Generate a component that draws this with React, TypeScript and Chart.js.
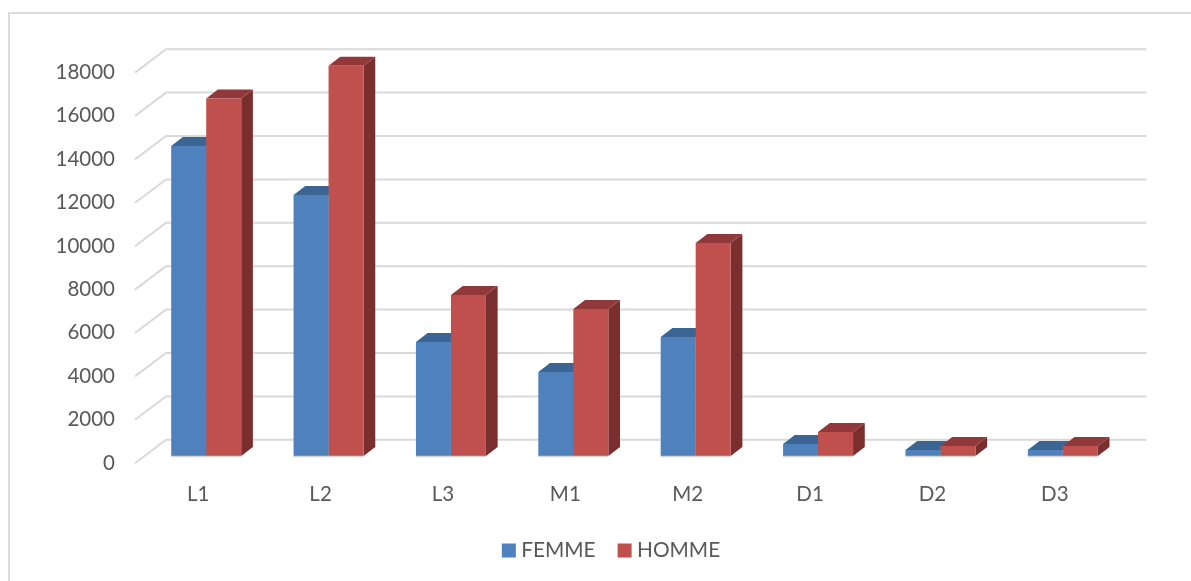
import React, { useEffect, useRef } from "react";
import { Chart, registerables } from "chart.js";

Chart.register(...registerables);

const categories = ["L1", "L2", "L3", "M1", "M2", "D1", "D2", "D3"];
const femme = [14290, 12030, 5250, 3870, 5480, 550, 280, 280];
const homme = [16480, 17980, 7420, 6770, 9820, 1110, 460, 460];

const FONT = "Lato, 'Open Sans', sans-serif";
const TEXT = "#595959";
const GRID = "#d9d9d9";
const DEPTH_X = 11.7;
const DEPTH_Y = 9;
const topColors = ["#3c6594", "#91393a"];
const sideColors = ["#2f4f75", "#7a2f2e"];

const scene = {
  id: "scene",
  afterLayout(chart: any) {
    // the legend in the picture is centred further right than the plot's box
    chart.legend.left = 103;
  },
  beforeDatasetsDraw(chart: any) {
    const { ctx, scales } = chart;
    const y = scales.y;
    ctx.save();
    // outer frame (only top and left edges show in the picture)
    ctx.strokeStyle = "#dcdcdc";
    ctx.lineWidth = 2;
    ctx.beginPath();
    ctx.moveTo(1191, 13);
    ctx.lineTo(9, 13);
    ctx.lineTo(9, 581);
    ctx.stroke();
    // back wall and side wall grid lines
    ctx.strokeStyle = GRID;
    ctx.lineWidth = 2;
    y.ticks.forEach((t: any) => {
      const p = y.getPixelForValue(t.value);
      ctx.beginPath();
      ctx.moveTo(135, p + 7.2);
      ctx.lineTo(166, p - 16.2);
      ctx.lineTo(1146.5, p - 16.2);
      ctx.stroke();
    });
    // 3D faces of the bars: the library's bars give the front face
    chart.data.datasets.forEach((_: any, di: number) => {
      chart.getDatasetMeta(di).data.forEach((bar: any) => {
        const l = bar.x - bar.width / 2;
        const r = bar.x + bar.width / 2;
        const t = bar.y;
        const b = bar.base;
        ctx.fillStyle = sideColors[di];
        ctx.beginPath();
        ctx.moveTo(r, t);
        ctx.lineTo(r + DEPTH_X, t - DEPTH_Y);
        ctx.lineTo(r + DEPTH_X, b - DEPTH_Y);
        ctx.lineTo(r, b);
        ctx.closePath();
        ctx.fill();
        ctx.fillStyle = topColors[di];
        ctx.beginPath();
        ctx.moveTo(l, t);
        ctx.lineTo(l + DEPTH_X, t - DEPTH_Y);
        ctx.lineTo(r + DEPTH_X, t - DEPTH_Y);
        ctx.lineTo(r, t);
        ctx.closePath();
        ctx.fill();
      });
    });
    ctx.restore();
  },
  afterDatasetsDraw(chart: any) {
    const { ctx } = chart;
    ctx.save();
    ctx.strokeStyle = "#d4d4d4";
    ctx.lineWidth = 1.5;
    const first = chart.getDatasetMeta(0).data;
    const last = chart.getDatasetMeta(1).data;
    first.forEach((bar: any, i: number) => {
      const other = last[i];
      ctx.beginPath();
      ctx.moveTo(bar.x - bar.width / 2, bar.base + 0.5);
      ctx.lineTo(other.x + other.width / 2, other.base + 0.5);
      ctx.stroke();
    });
    ctx.restore();
  },
};

export default function App() {
  const ref = useRef<HTMLCanvasElement>(null);
  useEffect(() => {
    const chart = new Chart(ref.current as HTMLCanvasElement, {
      type: "bar",
      plugins: [scene],
      data: {
        labels: categories,
        datasets: [
          { label: "FEMME", data: femme, backgroundColor: "#4f81bd", borderWidth: 0 },
          { label: "HOMME", data: homme, backgroundColor: "#c0504d", borderWidth: 0 },
        ],
      },
      options: {
        animation: false,
        responsive: false,
        layout: { padding: { left: 0, top: 65.4, right: 67, bottom: 10 } },
        datasets: { bar: { categoryPercentage: 0.572, barPercentage: 1 } },
        plugins: {
          tooltip: { enabled: false },
          title: { display: false },
          legend: {
            position: "bottom",
            labels: {
              color: TEXT,
              font: { family: FONT, size: 20.8 },
              boxWidth: 4,
              boxHeight: 4,
              padding: 27,
              generateLabels: (c: any) =>
                c.data.datasets.map((d: any, i: number) => ({
                  text: d.label,
                  fillStyle: d.backgroundColor,
                  strokeStyle: d.backgroundColor,
                  lineWidth: 10,
                  fontColor: TEXT,
                  datasetIndex: i,
                })),
            },
          },
        },
        scales: {
          x: {
            grid: { display: false, drawTicks: false },
            border: { display: false },
            afterFit: (s: any) => { s.height = 57.2; },
            ticks: {
              color: TEXT,
              font: { family: FONT, size: 20.5 },
              padding: 26,
              labelOffset: -8,
              maxRotation: 0,
            },
          },
          y: {
            min: 0,
            max: 18000,
            grid: { display: false, drawTicks: false },
            border: { display: false },
            afterFit: (s: any) => { s.width = 145; },
            ticks: {
              stepSize: 2000,
              color: TEXT,
              font: { family: FONT, size: 20.5 },
              padding: 30,
              labelOffset: 7,
              callback: (v: any) => String(v),
            },
          },
        },
      },
    } as any);
    return () => chart.destroy();
  }, []);
  return (
    <div style={{ position: "absolute", left: 0, top: 0, width: 1191, height: 581, background: "#fff" }}>
      <canvas ref={ref} width={1191} height={581} style={{ display: "block" }} />
    </div>
  );
}
